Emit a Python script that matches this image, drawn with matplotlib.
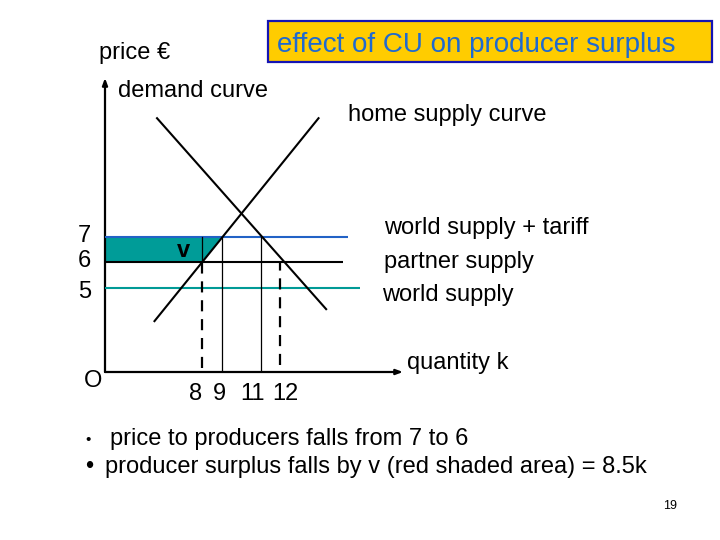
import matplotlib
matplotlib.use("Agg")
import matplotlib.pyplot as plt
from matplotlib.patches import Rectangle, Polygon
from matplotlib.transforms import ScaledTranslation
import numpy as np

plt.rcParams['font.family'] = ['Liberation Sans', 'DejaVu Sans']

# ---- data (schematic diagram values) ----
price_levels = [7, 6, 5]
price_labels = ["7", "6", "5"]
price_line_names = ["world supply + tariff", "partner supply", "world supply"]
price_line_colors = ["#2262c6", "#000000", "#009a96"]
price_line_end_q = [15.47, 15.22, 16.09]

quantity_ticks = [8, 9, 11, 12]
quantity_labels = ["8", "9", "11", "12"]

demand_q = [5.68, 14.35]
demand_p = [11.65, 4.16]
supply_q = [5.55, 13.96]
supply_p = [3.69, 11.65]

old_price, new_price = 7, 6
q_at_old, q_at_new = 9, 8          # home supply at 7 and at 6
demand_old, demand_new = 11, 12    # demand at 7 and at 6

title = "effect of CU on producer surplus"
bullets = ["price to producers falls from 7 to 6",
           "producer surplus falls by v (red shaded area) = 8.5k"]

# ---- figure ----
W, H = 720, 540
fig = plt.figure(figsize=(W / 100, H / 100), dpi=100)
fig.patch.set_facecolor("white")

# background axes in pixel coordinates for slide text
bg = fig.add_axes([0, 0, 1, 1])
bg.set_xlim(0, W)
bg.set_ylim(H, 0)
bg.axis("off")

# chart axes
x0, x1, ytop, ybot = 105, 403, 78, 372
ax = fig.add_axes([x0 / W, 1 - ybot / H, (x1 - x0) / W, (ybot - ytop) / H])
ax.set_xlim(3.013, 18.29)
ax.set_ylim(1.694, 13.227)
ax.patch.set_alpha(0)
for s in ax.spines.values():
    s.set_visible(False)

qmin, qmax = ax.get_xlim()
pmin, pmax = ax.get_ylim()

# axes with arrows
arrow = dict(arrowstyle="-|>,head_length=0.4,head_width=0.15",
             lw=1.6, color="black", shrinkA=0, shrinkB=0)
ax.annotate("", xy=(1, 0), xytext=(0, 0), xycoords="axes fraction",
            arrowprops=arrow, annotation_clip=False)
ax.annotate("", xy=(0, 1), xytext=(0, 0), xycoords="axes fraction",
            arrowprops=arrow, annotation_clip=False)

# shaded producer-surplus loss
poly = Polygon([(qmin, old_price), (q_at_old, old_price),
                (q_at_new, new_price), (qmin, new_price)],
               closed=True, facecolor="#009c98", edgecolor="none", zorder=1)
ax.add_patch(poly)

# horizontal price lines
for p, c, qe in zip(price_levels, price_line_colors, price_line_end_q):
    ax.plot([qmin, qe], [p, p], color=c, lw=1.5, solid_capstyle="butt", zorder=3)

# demand and supply curves
ax.plot(demand_q, demand_p, color="black", lw=1.5, zorder=4)
ax.plot(supply_q, supply_p, color="black", lw=1.5, zorder=4)

# vertical guides
ax.plot([q_at_new, q_at_new], [new_price, old_price], color="black", lw=0.9, zorder=4)
ax.plot([q_at_new, q_at_new], [1.85, new_price], color="black", lw=1.6,
        linestyle=(0, (5, 3.5)), zorder=4)
ax.plot([q_at_old, q_at_old], [pmin, old_price], color="black", lw=0.9, zorder=4)
ax.plot([demand_old, demand_old], [pmin, old_price], color="black", lw=0.9, zorder=4)
ax.plot([demand_new, demand_new], [1.95, new_price], color="black", lw=1.6,
        linestyle=(0, (5, 3.5)), zorder=4)

# ticks
ax.set_xticks(quantity_ticks)
ax.set_xticklabels(quantity_labels, fontsize=17)
ax.set_yticks(price_levels)
ax.set_yticklabels(price_labels, fontsize=17)
ax.tick_params(axis="x", length=0, pad=8)
ax.tick_params(axis="y", length=0, pad=10)
# small nudges so labels sit as on the slide
label_shift_px = [-7, -2, -8, 5]
for lab, dx in zip(ax.get_xticklabels(), label_shift_px):
    lab.set_transform(lab.get_transform() + ScaledTranslation(dx / 100, 0, fig.dpi_scale_trans))
ylabel_shift_px = [3, 4, -2]
for lab, dy in zip(ax.get_yticklabels(), ylabel_shift_px):
    lab.set_transform(lab.get_transform() + ScaledTranslation(0, dy / 100, fig.dpi_scale_trans))

# v label
ax.text(q_at_new - 0.95, new_price + 0.22, "v", fontsize=17, fontweight="bold",
        ha="center", va="baseline", zorder=5)

# slide texts (pixel positions)
fs = 17
bg.text(99, 59, "price €", fontsize=fs, va="baseline")
bg.text(118, 97, "demand curve", fontsize=fs, va="baseline")
bg.text(348, 121, "home supply curve", fontsize=fs, va="baseline")
bg.text(384, 234, price_line_names[0], fontsize=fs, va="baseline")
bg.text(384, 268, price_line_names[1], fontsize=fs, va="baseline")
bg.text(382, 301, price_line_names[2], fontsize=fs, va="baseline")
bg.text(407, 369, "quantity k", fontsize=fs, va="baseline")
bg.text(93, 387, "O", fontsize=fs, va="baseline", ha="center")

# title box
bg.add_patch(Rectangle((268, 21), 444, 41, facecolor="#ffcc00",
                       edgecolor="#1414b4", lw=1.6))
bg.text(277, 52, title, fontsize=20, color="#1f6ad0", va="baseline")

# bullets
bg.text(88, 444, "•", fontsize=11, va="baseline", ha="center")
bg.text(110, 445, bullets[0], fontsize=fs, va="baseline")
bg.text(89, 473, "•", fontsize=fs, va="baseline", ha="center")
bg.text(105, 473, bullets[1], fontsize=fs, va="baseline")

bg.text(670, 509, "19", fontsize=9, va="baseline", ha="center")

fig.savefig("out.png", dpi=100, facecolor="white")
